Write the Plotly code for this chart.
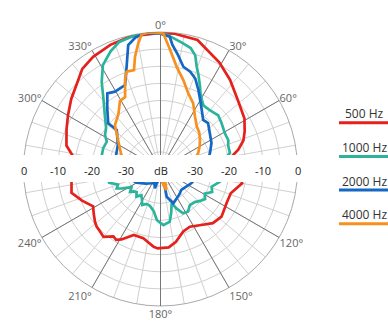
import plotly.graph_objects as go

# ---------------- data (angle in degrees, level in dB) ----------------
red_theta = [0, 6, 16, 29, 38, 48, 59, 66, 71, 76, 80, 90, 100, 109, 117, 128, 136, 144, 153, 160,
             168, 174, 182, 185, 194, 202, 209, 212, 215, 220, 224, 228, 231, 236, 241, 248, 255, 261, 270, 278,
             284, 293, 300, 308, 316, 322, 329, 338, 347, 360]
red_db = [-0.3, -0.3, -0.8, -4.5, -7.0, -9.7, -11.4, -13.1, -14.4, -16.6, -18.9, -17.5, -15.8, -18.3, -18.3, -17.4, -18.0, -19.8, -21.1, -20.6,
          -18.3, -17.0, -16.8, -17.2, -19.2, -19.2, -16.5, -15.6, -16.0, -14.1, -14.6, -14.9, -15.4, -16.5, -17.5, -15.3, -13.1, -13.7, -14.0, -14.3,
          -11.7, -10.2, -8.8, -6.9, -5.0, -2.9, -1.8, -0.9, -0.3, -0.3]

teal_theta = [0, 3, 10, 14, 17, 19.5, 22, 25.6, 28, 31, 34, 40, 44, 47, 53, 61, 67, 71, 77, 80,
              90, 102, 109, 114, 119, 124, 128, 134, 141, 147, 153, 158, 162, 166, 170, 177, 184, 189, 196, 202,
              207, 211, 216, 221, 226, 230, 233, 238, 243, 246, 250, 255, 262, 270, 283, 290, 297, 301.5, 307, 314,
              320, 326, 331, 337, 342, 349, 355, 360]
teal_db = [-0.3, -0.8, -2.7, -3.6, -5.3, -8.3, -10.4, -13.3, -15.1, -16.5, -17.6, -17.6, -17.3, -17.0, -17.7, -18.5, -18.5, -19.1, -19.2, -20.5,
           -21.5, -22.2, -24.2, -23.5, -25.2, -24.3, -25.0, -26.1, -26.4, -25.2, -25.5, -27.6, -29.5, -27.0, -24.4, -23.6, -25.0, -27.5, -28.8, -29.0,
           -28.2, -29.5, -30.5, -29.3, -30.3, -29.8, -28.9, -30.0, -27.5, -26.0, -26.8, -24.5, -24.0, -23.0, -22.4, -22.2, -22.4, -21.0, -20.1, -17.4,
           -14.2, -9.3, -5.3, -2.7, -1.0, -0.3, 0.0, -0.3]

blue_theta = [0, 4, 5.5, 8.7, 12.6, 17, 21, 25.6, 30, 35, 41, 46, 54, 63, 72, 78, 90, 102, 115, 124.5,
              135, 143, 151, 159.5, 167.4, 166, 172, 175, 186, 195, 196, 204, 212, 225, 240, 255, 270, 287.5, 299.5, 311.7,
              311.2, 318.8, 324.9, 329.5, 337.1, 342, 345.4, 349.2, 353.7, 360]
blue_db = [-0.5, -1.3, -3.6, -6.3, -9.4, -10.3, -11.7, -14.4, -16.8, -19.0, -21.0, -20.7, -22.2, -23.3, -24.8, -25.7, -27.5, -29.0, -30.1, -30.9,
           -31.4, -30.8, -30.2, -29.3, -31.7, -34.7, -36.5, -37.0, -37.0, -35.7, -34.1, -35.6, -35.1, -34.0, -32.0, -30.0, -28.0, -26.4, -25.7, -22.9,
           -19.7, -16.4, -13.0, -13.8, -13.4, -8.1, -2.6, -0.9, 0.0, -0.5]

orange_theta = [0, 1.2, 4.6, 9, 14.4, 20.2, 26.5, 33.4, 40.6, 47, 53.7, 60, 67.4, 75, 85, 100, 120, 140, 155, 160,
                165, 171, 185, 200, 220, 240, 255, 270, 280, 290.8, 303.6, 314, 322.5, 329.2, 333.8, 338.3, 340.8, 345, 347.2, 350,
                352, 355, 360]
orange_db = [-0.3, -0.4, -5.1, -9.8, -13.2, -16.5, -18.6, -21.7, -23.7, -24.5, -25.7, -26.8, -28.1, -30.0, -32.0, -35.0, -37.0, -38.0, -38.0, -35.8,
             -33.6, -35.8, -38.0, -38.5, -38.0, -36.0, -33.0, -31.0, -29.5, -27.7, -25.2, -21.5, -19.8, -16.9, -16.6, -12.0, -9.9, -10.1, -6.4, -2.7,
             -0.3, 0.0, -0.3]

series_names = ["500 Hz", "1000 Hz", "2000 Hz", "4000 Hz"]
series_colors = ["#e4211c", "#2bb39c", "#1467c2", "#f7901e"]
series_theta = [red_theta, teal_theta, blue_theta, orange_theta]
series_db = [red_db, teal_db, blue_db, orange_db]

angle_ticks = list(range(0, 360, 30))
angle_labels = ["0°", "30°", "60°", "", "120°", "150°", "180°", "210°", "240°", "", "300°", "330°"]
scale_values = [0, -10, -20, -30]
r_min, r_max = -40, 0

# ---------------- layout geometry (window pixels) ----------------
W, H = 388, 322


def px(x):
    return x / W


def py(y):
    return (H - y) / H


CX, CY, R = 160.5, 169.0, 137.0
dom_x = [px(CX - R), px(CX + R)]
dom_y = [py(CY + R), py(CY - R)]
FONT = "Open Sans, DejaVu Sans, sans-serif"

fig = go.Figure()
# empty trace to keep the background polar grid
fig.add_trace(go.Scatterpolar(r=[], theta=[], subplot="polar", showlegend=False))
for name, th, db, col in zip(series_names, series_theta, series_db, series_colors):
    fig.add_trace(go.Scatterpolar(theta=th, r=db, mode="lines", name=name, subplot="polar2",
                                  line=dict(color=col, width=2.7), showlegend=False))

fig.update_layout(
    width=W, height=H, margin=dict(l=0, r=0, t=0, b=0),
    paper_bgcolor="white", showlegend=False,
    font=dict(family=FONT),
    polar=dict(
        domain=dict(x=dom_x, y=dom_y), bgcolor="white",
        radialaxis=dict(range=[r_min, r_max], tickvals=list(range(-35, 0, 5)), showticklabels=False,
                        ticks="", showline=False, gridcolor="#d0d0d0", gridwidth=1),
        angularaxis=dict(rotation=90, direction="clockwise", tickvals=list(range(0, 360, 10)),
                         showticklabels=False, ticks="", gridcolor="#d0d0d0", gridwidth=1,
                         showline=True, linecolor="#a9a9a9", linewidth=1),
    ),
    polar2=dict(
        domain=dict(x=dom_x, y=dom_y), bgcolor="rgba(0,0,0,0)",
        radialaxis=dict(range=[r_min, r_max], showgrid=False, showticklabels=False, ticks="", showline=False),
        angularaxis=dict(rotation=90, direction="clockwise", tickvals=angle_ticks, ticktext=angle_labels,
                         ticks="", gridcolor="#777777", gridwidth=1, showline=False,
                         tickfont=dict(family=FONT, size=11, color="#666666")),
    ),
)

# white band through the middle
band_top, band_bot = 155, 182
fig.add_shape(type="rect", xref="paper", yref="paper", x0=0, x1=px(318),
              y0=py(band_bot), y1=py(band_top),
              fillcolor="white", line=dict(width=0), layer="above")

# scale labels across the band
label_y = py(170)
px_per_db = R / (r_max - r_min)
for v in scale_values:
    d = (v - r_min) * px_per_db
    for sgn in (-1, 1):
        fig.add_annotation(x=px(CX + sgn * d), y=label_y, xref="paper", yref="paper",
                           text=str(v), showarrow=False, xanchor="center", yanchor="middle",
                           font=dict(family=FONT, size=11, color="#222222"))
fig.add_annotation(x=px(CX), y=label_y, xref="paper", yref="paper", text="dB", showarrow=False,
                   xanchor="center", yanchor="middle", font=dict(family=FONT, size=11, color="#222222"))

# legend: text above a coloured line
for i, (name, col) in enumerate(zip(series_names, series_colors)):
    ly = 122.7 + i * 33.7
    fig.add_shape(type="line", xref="paper", yref="paper", x0=px(339), x1=1.05,
                  y0=py(ly), y1=py(ly), line=dict(color=col, width=3))
    fig.add_annotation(x=px(364), y=py(ly - 9), xref="paper", yref="paper", text=name,
                       showarrow=False, xanchor="center", yanchor="middle",
                       font=dict(family=FONT, size=12, color="#333333"))

fig.write_html("out.html", config={"displayModeBar": False},
               post_script="document.body.style.margin='0';document.body.style.overflow='hidden';")
